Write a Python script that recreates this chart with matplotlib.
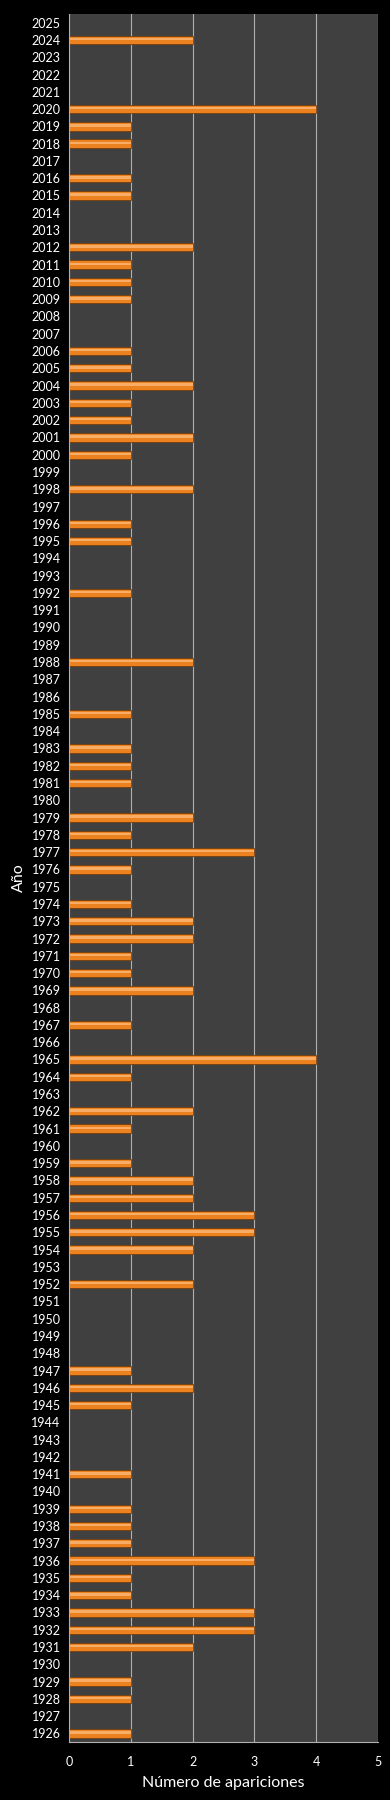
import matplotlib
matplotlib.use("Agg")
import matplotlib.pyplot as plt
import numpy as np

plt.rcParams['font.family'] = ['Lato', 'DejaVu Sans']

years = list(range(1926, 2026))
# apariciones por año, 1926 -> 2025
counts = [
    1, 0, 1, 1, 0, 2, 3, 3, 1, 1,   # 1926-1935
    3, 1, 1, 1, 0, 1, 0, 0, 0, 1,   # 1936-1945
    2, 1, 0, 0, 0, 0, 2, 0, 2, 3,   # 1946-1955
    3, 2, 2, 1, 0, 1, 2, 0, 1, 4,   # 1956-1965
    0, 1, 0, 2, 1, 1, 2, 2, 1, 0,   # 1966-1975
    1, 3, 1, 2, 0, 1, 1, 1, 0, 1,   # 1976-1985
    0, 0, 2, 0, 0, 0, 1, 0, 0, 1,   # 1986-1995
    1, 0, 2, 0, 1, 2, 1, 1, 2, 1,   # 1996-2005
    1, 0, 0, 1, 1, 1, 2, 0, 0, 1,   # 2006-2015
    1, 0, 1, 1, 4, 0, 0, 0, 2, 0,   # 2016-2025
]
xticks = [0, 1, 2, 3, 4, 5]

fig = plt.figure(figsize=(3.9, 18), dpi=100, facecolor='black')
ax = fig.add_axes([0.177, 0.0322, 0.792, 0.96])
ax.set_facecolor('#404040')

pos = np.arange(len(years))
ax.barh(pos, counts, height=0.48, color='#EC821F', edgecolor='#6E3606', linewidth=0.5, zorder=3)
ax.barh(pos + 0.05, counts, height=0.14, color='#F7AD66', linewidth=0, zorder=4)

ax.set_xlim(0, 5)
ax.set_ylim(-0.5, len(years) - 0.5)
ax.set_xticks(xticks)
ax.set_xticklabels([str(t) for t in xticks])
ax.set_yticks(pos)
ax.set_yticklabels([str(y) for y in years])

ax.grid(axis='x', color='#B0B0B0', linewidth=0.8, zorder=1)
ax.tick_params(axis='both', colors='white', labelsize=9, length=0, pad=6)
ax.tick_params(axis='x', pad=10)
for side in ['top', 'right']:
    ax.spines[side].set_visible(False)
for side in ['left', 'bottom']:
    ax.spines[side].set_color('#B0B0B0')
    ax.spines[side].set_linewidth(0.8)
    ax.spines[side].set_zorder(5)

ax.set_xlabel('Número de apariciones', color='white', fontsize=11.5, labelpad=6)
ax.set_ylabel('Año', color='white', fontsize=11.5, labelpad=4)

fig.savefig('out.png', dpi=100, facecolor='black')
